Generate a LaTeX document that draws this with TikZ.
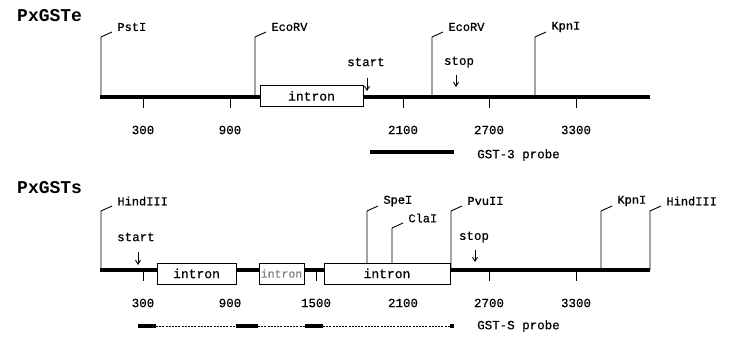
\documentclass[tikz,border=0pt]{standalone}
\usepackage{fontspec}
\setmonofont{Liberation Mono}
\newfontfamily\mapfont[FakeBold=0.6]{Liberation Mono}
\usetikzlibrary{arrows.meta}
\tikzset{
  dna/.style={line width=4pt},
  site/.style={line width=0.9pt},
  sitelbl/.style={anchor=west,inner sep=0pt,xshift=5pt,yshift=5pt,font=\mapfont\fontsize{12}{12}\selectfont},
  tick/.style={line width=0.9pt},
  ticklbl/.style={inner sep=0pt,font=\mapfont\fontsize{12.5}{12.5}\selectfont},
  lbl/.style={inner sep=0pt,font=\mapfont\fontsize{12.5}{12.5}\selectfont},
  intronbox/.style={draw,fill=white,line width=0.9pt,minimum height=21pt,inner sep=0pt,font=\mapfont\fontsize{13}{13}\selectfont},
  codon/.style={-{Straight Barb[length=4pt,width=5pt]},line width=0.9pt},
  probe/.style={line width=4pt},
  gaplink/.style={line width=0.6pt,dash pattern=on 2pt off 1.2pt},
  ttl/.style={anchor=west,inner sep=0pt,font=\ttfamily\bfseries\fontsize{18}{18}\selectfont}
}
\begin{document}
\begin{tikzpicture}[x=1pt,y=-1pt]
  \useasboundingbox (0,0) rectangle (735,339);

  % PxGSTe
  \node[ttl] (ttlE) at (17,16) {PxGSTe};
  \coordinate (eL) at (100,97);
  \coordinate (eR) at (650,97);
  \draw[tick] (143,97) -- (143,108);
  \draw[tick] (230,97) -- (230,108);
  \draw[tick] (403,97) -- (403,108);
  \draw[tick] (489,97) -- (489,108);
  \draw[tick] (576,97) -- (576,108);
  \draw[dna] (eL) -- (eR);
  \node[ticklbl] (e300) at (143,130) {300};
  \node[ticklbl] (e900) at (230,130) {900};
  \node[ticklbl] (e2100) at (403,130) {2100};
  \node[ticklbl] (e2700) at (489,130) {2700};
  \node[ticklbl] (e3300) at (576,130) {3300};
  \node[intronbox,minimum width=103pt] (eIn) at (311.5,96) {intron};

  \draw[site] (101,97) -- (101,37) -- ++(11,-5) node[sitelbl] (ePst) {PstI};
  \draw[site] (255,97) -- (255,37) -- ++(11,-5) node[sitelbl] (eEco1) {EcoRV};
  \draw[site] (432,97) -- (432,37) -- ++(11,-5) node[sitelbl] (eEco2) {EcoRV};
  \draw[site] (535,97) -- (535,37) -- ++(11,-5) node[sitelbl] (eKpn) {KpnI};

  \node[lbl] (eStart) at (366,62) {start};
  \coordinate (eAtg) at (367,91);
  \draw[codon] (eAtg) ++(0,-13) -- (eAtg);
  \node[lbl] (eStop) at (459,62) {stop};
  \coordinate (eTaa) at (456,87);
  \draw[codon] (eTaa) ++(0,-12) -- (eTaa);

  \coordinate (p3a) at (370,152);
  \coordinate (p3b) at (454,152);
  \draw[probe] (p3a) -- (p3b);
  \node[lbl,anchor=west] (p3lbl) at (477,155) {GST-3 probe};

  % PxGSTs
  \node[ttl] (ttlS) at (17,188) {PxGSTs};
  \coordinate (sL) at (100,270);
  \coordinate (sR) at (650,270);
  \draw[tick] (143,270) -- (143,281);
  \draw[tick] (230,270) -- (230,281);
  \draw[tick] (316,270) -- (316,281);
  \draw[tick] (403,270) -- (403,281);
  \draw[tick] (489,270) -- (489,281);
  \draw[tick] (576,270) -- (576,281);
  \draw[dna] (sL) -- (sR);
  \node[ticklbl] (s300) at (143,303) {300};
  \node[ticklbl] (s900) at (230,303) {900};
  \node[ticklbl] (s1500) at (316,303) {1500};
  \node[ticklbl] (s2100) at (403,303) {2100};
  \node[ticklbl] (s2700) at (489,303) {2700};
  \node[ticklbl] (s3300) at (576,303) {3300};
  \node[intronbox,minimum width=79pt] (sIn1) at (196.5,273.5) {intron};
  \node[intronbox,minimum width=45pt,text=gray,font=\mapfont\fontsize{11.5}{11.5}\selectfont] (sIn2) at (281.5,273.5) {intron};
  \node[intronbox,minimum width=126pt] (sIn3) at (387,273.5) {intron};

  \draw[site] (101,270) -- (101,211) -- ++(11,-5) node[sitelbl] (sHind1) {HindIII};
  \draw[site] (367,264) -- (367,211) -- ++(11,-5) node[sitelbl] (sSpe) {SpeI};
  \draw[site] (392,264) -- (392,228) -- ++(11,-5) node[sitelbl] (sCla) {ClaI};
  \draw[site] (451,270) -- (451,211) -- ++(11,-5) node[sitelbl] (sPvu) {PvuII};
  \draw[site] (601,270) -- (601,211) -- ++(11,-5) node[sitelbl] (sKpn) {KpnI};
  \draw[site] (650,270) -- (650,211) -- ++(11,-5) node[sitelbl] (sHind2) {HindIII};

  \node[lbl] (sStart) at (136,237) {start};
  \coordinate (sAtg) at (138,265);
  \draw[codon] (sAtg) ++(0,-13) -- (sAtg);
  \node[lbl] (sStop) at (474,237) {stop};
  \coordinate (sTaa) at (475,262);
  \draw[codon] (sTaa) ++(0,-12) -- (sTaa);

  \coordinate (pa) at (138,326);
  \coordinate (pb) at (156,326);
  \coordinate (pc) at (236,326);
  \coordinate (pd) at (258,326);
  \coordinate (pe) at (305,326);
  \coordinate (pf) at (323,326);
  \coordinate (pg) at (452,326);
  \draw[probe] (pa) -- (pb);
  \draw[probe] (pc) -- (pd);
  \draw[probe] (pe) -- (pf);
  \draw[gaplink] (pb) -- (pc);
  \draw[gaplink] (pd) -- (pe);
  \draw[gaplink] (pf) -- (pg);
  \fill (pg) ++(-2,-2) rectangle ++(4,4);
  \node[lbl,anchor=west] (pSlbl) at (477,326) {GST-S probe};
\end{tikzpicture}
\end{document}
